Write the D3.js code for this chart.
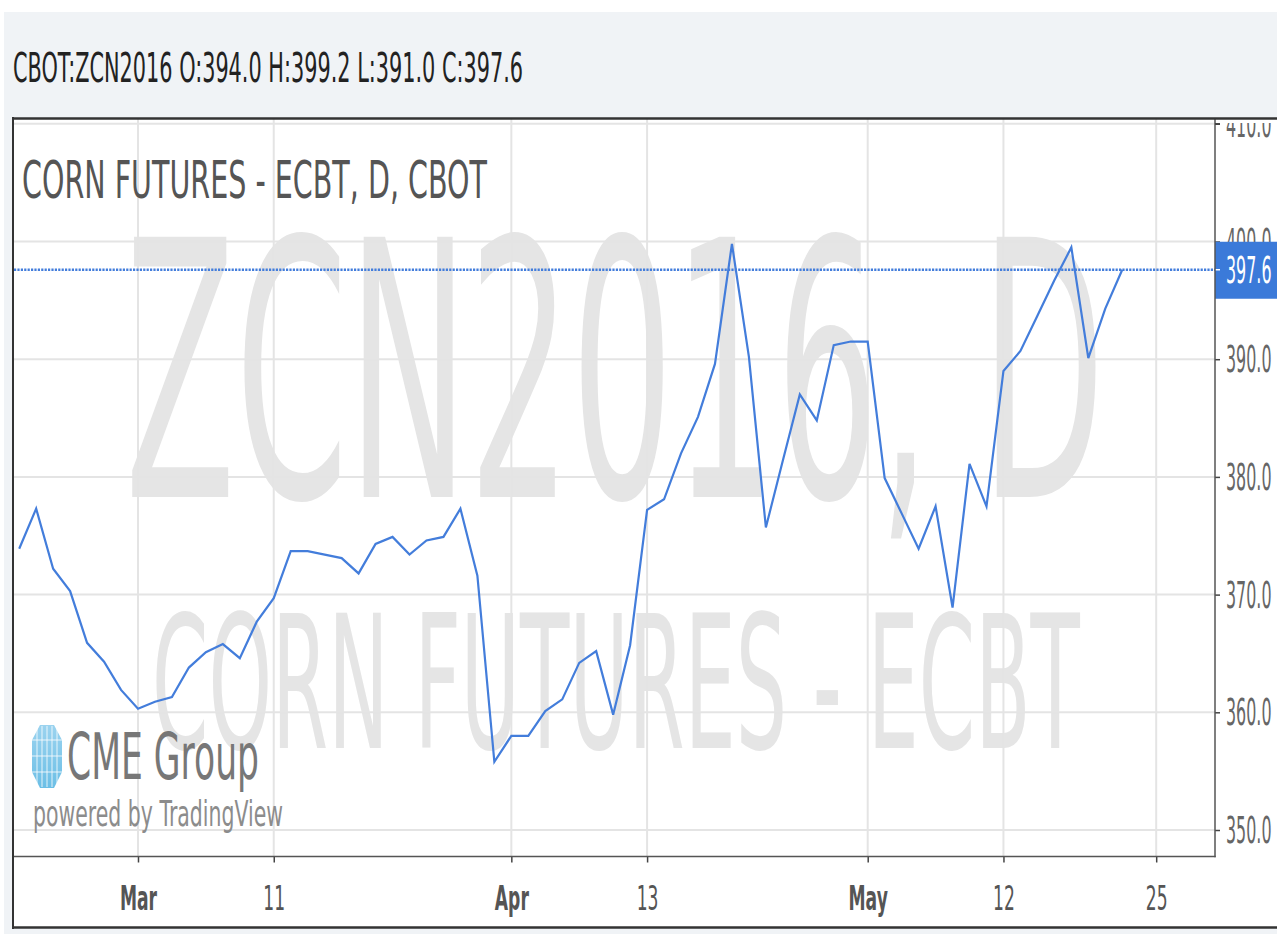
<!DOCTYPE html>
<html>
<head>
<meta charset="utf-8">
<title>ZCN2016 corn futures</title>
<script src="https://cdnjs.cloudflare.com/ajax/libs/d3/7.8.5/d3.min.js"></script>
<style>
  body { margin: 0; background: #fff; }
  text { font-family: "DejaVu Sans", sans-serif; }
</style>
</head>
<body>
<svg id="svg"></svg>
<script>
var WIDTH = 1277;
var HEIGHT = 934;

// trading days shown (Good Friday and Presidents Day closed)
var dates = [
  "2016-02-19","2016-02-22","2016-02-23","2016-02-24","2016-02-25","2016-02-26","2016-02-29",
  "2016-03-01","2016-03-02","2016-03-03","2016-03-04","2016-03-07","2016-03-08","2016-03-09","2016-03-10","2016-03-11",
  "2016-03-14","2016-03-15","2016-03-16","2016-03-17","2016-03-18","2016-03-21","2016-03-22","2016-03-23","2016-03-24",
  "2016-03-28","2016-03-29","2016-03-30","2016-03-31",
  "2016-04-01","2016-04-04","2016-04-05","2016-04-06","2016-04-07","2016-04-08","2016-04-11","2016-04-12","2016-04-13",
  "2016-04-14","2016-04-15","2016-04-18","2016-04-19","2016-04-20","2016-04-21","2016-04-22","2016-04-25","2016-04-26",
  "2016-04-27","2016-04-28","2016-04-29",
  "2016-05-02","2016-05-03","2016-05-04","2016-05-05","2016-05-06","2016-05-09","2016-05-10","2016-05-11","2016-05-12",
  "2016-05-13","2016-05-16","2016-05-17","2016-05-18","2016-05-19","2016-05-20","2016-05-23"
];
// daily close
var closes = [
  373.9, 377.3, 372.2, 370.3, 365.9, 364.3, 361.9,
  360.3, 360.9, 361.3, 363.8, 365.1, 365.8, 364.6, 367.7, 369.7,
  373.7, 373.7, 373.4, 373.1, 371.8, 374.3, 374.9, 373.4, 374.6,
  374.9, 377.3, 371.6, 355.8,
  358.0, 358.0, 360.1, 361.1, 364.2, 365.2, 359.8, 365.7, 377.2,
  378.1, 382.0, 385.1, 389.6, 399.8, 390.2, 375.7, 381.4, 387.0,
  384.8, 391.2, 391.5,
  391.5, 379.9, 376.9, 373.9, 377.5, 368.9, 381.1, 377.5, 389.0,
  390.7, 393.7, 396.7, 399.5, 390.1, 394.3, 397.6
];
// empty future days on the time axis
var futureDates = ["2016-05-24","2016-05-25"];

var tickDates = ["2016-03-01","2016-03-11","2016-04-01","2016-04-13","2016-05-02","2016-05-12","2016-05-25"];
var tickLabels = ["Mar","11","Apr","13","May","12","25"];
var monthTicks = ["Mar","Apr","May"];
var priceTicks = [350, 360, 370, 380, 390, 400, 410];

var header = "CBOT:ZCN2016 O:394.0 H:399.2 L:391.0 C:397.6";
var title = "CORN FUTURES - ECBT, D, CBOT";
var lastClose = closes[closes.length - 1];

var PLOT = {left: 14, right: 1215, top: 119, bottom: 856.5};
var BAR = 16.97;
var LINE_BLUE = "#437ddb";

var svg = d3.select("#svg").attr("width", WIDTH).attr("height", HEIGHT);

var allDates = dates.concat(futureDates);
var xScale = d3.scalePoint()
    .domain(allDates)
    .range([19.2, 19.2 + (allDates.length - 1) * BAR]);
var yScale = d3.scaleLinear()
    .domain([350, 400])
    .range([830, 241.5]);

// page background and chart panel
svg.append("rect").attr("x", 4).attr("y", 12).attr("width", WIDTH - 4).attr("height", HEIGHT - 12)
   .attr("fill", "#f0f3f6");
svg.append("rect").attr("x", 13).attr("y", 119).attr("width", WIDTH - 13).attr("height", 808)
   .attr("fill", "#fff");

svg.append("text").attr("x", 13).attr("y", 82)
   .attr("font-size", 40).attr("fill", "#222")
   .attr("textLength", 510).attr("lengthAdjust", "spacingAndGlyphs")
   .text(header);

svg.append("defs").append("clipPath").attr("id", "plotclip")
   .append("rect").attr("x", PLOT.left).attr("y", PLOT.top)
   .attr("width", PLOT.right - PLOT.left).attr("height", PLOT.bottom - PLOT.top);
svg.select("defs").append("clipPath").attr("id", "axisclip")
   .append("rect").attr("x", PLOT.right).attr("y", 123)
   .attr("width", WIDTH - PLOT.right).attr("height", PLOT.bottom - 100);

var plot = svg.append("g").attr("clip-path", "url(#plotclip)");

// watermark
plot.append("text").attr("x", 125).attr("y", 497)
   .attr("font-size", 357).attr("fill", "#e5e5e5")
   .attr("textLength", 980).attr("lengthAdjust", "spacingAndGlyphs")
   .text("ZCN2016, D");
plot.append("text").attr("x", 152).attr("y", 748)
   .attr("font-size", 185).attr("fill", "#e5e5e5")
   .attr("textLength", 928).attr("lengthAdjust", "spacingAndGlyphs")
   .text("CORN FUTURES - ECBT");

// grid
plot.selectAll("line.hgrid").data(priceTicks).enter().append("line")
   .attr("class", "hgrid")
   .attr("x1", PLOT.left).attr("x2", PLOT.right)
   .attr("y1", function(d){ return yScale(d); })
   .attr("y2", function(d){ return yScale(d); })
   .attr("stroke", "#e4e4e4").attr("stroke-width", 2);
plot.selectAll("line.vgrid").data(tickDates).enter().append("line")
   .attr("class", "vgrid")
   .attr("x1", function(d){ return xScale(d); })
   .attr("x2", function(d){ return xScale(d); })
   .attr("y1", PLOT.top).attr("y2", PLOT.bottom)
   .attr("stroke", "#e4e4e4").attr("stroke-width", 2);

// title and logo
plot.append("text").attr("x", 22).attr("y", 198)
   .attr("font-size", 52).attr("fill", "#555")
   .attr("textLength", 465).attr("lengthAdjust", "spacingAndGlyphs")
   .text(title);

var grad = svg.select("defs").append("linearGradient").attr("id", "globe")
   .attr("x1", 0).attr("y1", 0).attr("x2", 0).attr("y2", 1);
grad.append("stop").attr("offset", "0%").attr("stop-color", "#9bd3ef");
grad.append("stop").attr("offset", "100%").attr("stop-color", "#6cbfe6");
var globe = plot.append("g");
globe.append("path")
   .attr("d", "M40,725 L54,725 L62,740 L62,772 L54,788 L40,788 L32,772 L32,740 Z")
   .attr("fill", "url(#globe)");
[37, 42, 47, 52, 57].forEach(function(gx){
  globe.append("line").attr("x1", gx).attr("x2", gx).attr("y1", 726).attr("y2", 787)
     .attr("stroke", "#fff").attr("stroke-width", 1).attr("stroke-opacity", 0.8);
});
[740, 756, 772].forEach(function(gy){
  globe.append("line").attr("x1", 32).attr("x2", 62).attr("y1", gy).attr("y2", gy)
     .attr("stroke", "#fff").attr("stroke-width", 1).attr("stroke-opacity", 0.8);
});
plot.append("text").attr("x", 67).attr("y", 779)
   .attr("font-size", 64).attr("fill", "#777")
   .attr("textLength", 192).attr("lengthAdjust", "spacingAndGlyphs")
   .text("CME Group");
plot.append("text").attr("x", 33).attr("y", 826)
   .attr("font-size", 36).attr("fill", "#8c8c8c")
   .attr("textLength", 250).attr("lengthAdjust", "spacingAndGlyphs")
   .text("powered by TradingView");

// last price line
plot.append("line")
   .attr("x1", PLOT.left).attr("x2", PLOT.right)
   .attr("y1", yScale(lastClose)).attr("y2", yScale(lastClose))
   .attr("stroke", LINE_BLUE).attr("stroke-width", 2.6).attr("stroke-dasharray", "2.2,1.2");

// close line
var line = d3.line()
   .x(function(d, i){ return xScale(dates[i]); })
   .y(function(d){ return yScale(d); });
plot.append("path").datum(closes)
   .attr("d", line)
   .attr("fill", "none").attr("stroke", LINE_BLUE).attr("stroke-width", 2.2);

// price axis on the right
var yAxis = d3.axisRight(yScale).tickValues(priceTicks).tickSize(5).tickPadding(0)
   .tickFormat(d3.format(".1f"));
var yg = svg.append("g").attr("clip-path", "url(#axisclip)")
   .append("g").attr("transform", "translate(" + PLOT.right + ",0)").call(yAxis);
yg.select(".domain").remove();
yg.selectAll(".tick line").attr("stroke", "#444").attr("stroke-width", 1.5);
yg.selectAll(".tick text")
   .attr("x", 11 / 0.43).attr("dy", "0.34em")
   .attr("transform", "scale(0.43,1)")
   .attr("font-size", 37).attr("fill", "#666");

// last price label
var ly = yScale(lastClose);
svg.append("rect").attr("x", PLOT.right).attr("y", ly - 28)
   .attr("width", WIDTH - PLOT.right).attr("height", 57)
   .attr("fill", "#3b7ad9");
svg.append("line").attr("x1", PLOT.right).attr("x2", PLOT.right + 5)
   .attr("y1", ly).attr("y2", ly).attr("stroke", "#fff").attr("stroke-width", 1.5);
svg.append("text").attr("transform", "translate(1226," + ly + ") scale(0.43,1)")
   .attr("dy", "0.36em").attr("font-size", 37).attr("fill", "#fff")
   .text(d3.format(".1f")(lastClose));

// time axis
var xAxis = d3.axisBottom(xScale).tickValues(tickDates).tickSize(6).tickPadding(0)
   .tickFormat(function(d, i){ return tickLabels[i]; });
var xg = svg.append("g").attr("transform", "translate(0," + PLOT.bottom + ")").call(xAxis);
xg.select(".domain").remove();
xg.selectAll(".tick line").attr("stroke", "#444").attr("stroke-width", 1.5);
xg.selectAll(".tick text")
   .attr("y", 54).attr("dy", null)
   .attr("transform", "scale(0.52,1)")
   .attr("font-size", 33).attr("fill", "#555")
   .attr("font-weight", function(d, i){ return monthTicks.indexOf(tickLabels[i]) >= 0 ? "bold" : "normal"; });

// frame lines
svg.append("line").attr("x1", PLOT.left).attr("x2", PLOT.right + 0.75)
   .attr("y1", PLOT.bottom).attr("y2", PLOT.bottom)
   .attr("stroke", "#555").attr("stroke-width", 1.5);
svg.append("line").attr("x1", PLOT.right).attr("x2", PLOT.right)
   .attr("y1", PLOT.top).attr("y2", PLOT.bottom + 0.75)
   .attr("stroke", "#555").attr("stroke-width", 1.5);
svg.append("line").attr("x1", PLOT.right).attr("x2", PLOT.right + 5)
   .attr("y1", yScale(410)).attr("y2", yScale(410))
   .attr("stroke", "#444").attr("stroke-width", 1.5);
svg.append("line").attr("x1", 12).attr("x2", WIDTH).attr("y1", 118.5).attr("y2", 118.5)
   .attr("stroke", "#333").attr("stroke-width", 2.5);
svg.append("line").attr("x1", 12).attr("x2", WIDTH).attr("y1", 927.5).attr("y2", 927.5)
   .attr("stroke", "#333").attr("stroke-width", 2.5);
svg.append("line").attr("x1", 13).attr("x2", 13).attr("y1", 117).attr("y2", 929)
   .attr("stroke", "#333").attr("stroke-width", 2);
</script>
</body>
</html>
